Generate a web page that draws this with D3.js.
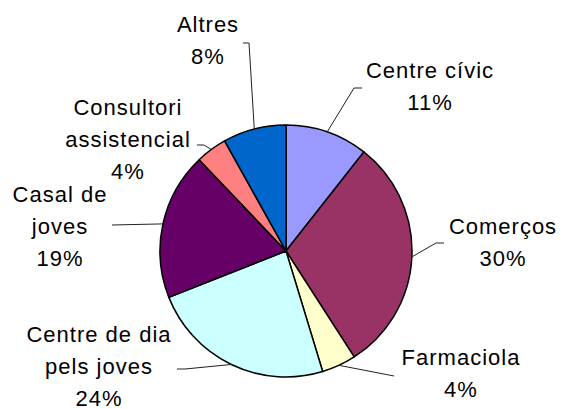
<!DOCTYPE html>
<html>
<head>
<meta charset="utf-8">
<script src="https://cdn.jsdelivr.net/npm/d3@7"></script>
<style>
    body { margin: 0; background: #fff; }
    text { font-family: "Liberation Sans", Arial, sans-serif; font-size: 22px; letter-spacing: 1px; fill: #000; }
</style>
</head>
<body>
<div id="chart"></div>
<script>
// slices in drawing order, clockwise from 12 o'clock
var categories = ["Centre cívic", "Comerços", "Farmaciola", "Centre de dia\npels joves", "Casal de\njoves", "Consultori\nassistencial", "Altres"];
var values = [10.6, 30.3, 4.4, 23.7, 18.9, 4.0, 8.1];
var colors = ["#9999FF", "#993366", "#FFFFCC", "#CCFFFF", "#660066", "#FF8080", "#0066CC"];

// label placement (centre x, first baseline) and leader line start points
var labelPos = [
    { x: 430, y: 78, lead: [[362, 88], [354, 88]] },
    { x: 503, y: 234, lead: [[444, 243], [436, 243]] },
    { x: 461, y: 365, lead: [[394, 376]] },
    { x: 99, y: 342, lead: [[177, 369], [185, 369]] },
    { x: 60, y: 202, lead: [[112, 225]] },
    { x: 128, y: 115, lead: [[197, 145], [204, 145]] },
    { x: 208, y: 32, lead: [[243, 43], [249, 43]] }
];

var width = 562;
var height = 409;
var cx = 286;
var cy = 251;
var radius = 126;
var lineGap = 32;

var total = d3.sum(values);

var svg = d3.select("#chart")
            .append("svg")
            .attr("width", width)
            .attr("height", height);

var pie = d3.pie().sort(null).value(d => d);
var arcs = pie(values);

var arc = d3.arc().innerRadius(0).outerRadius(radius);
var edge = d3.arc().innerRadius(radius).outerRadius(radius);

var g = svg.append("g").attr("transform", `translate(${cx}, ${cy})`);

g.selectAll("path")
 .data(arcs)
 .enter()
 .append("path")
 .attr("d", arc)
 .attr("fill", (d, i) => colors[i])
 .attr("stroke", "#000")
 .attr("stroke-width", 1.5)
 .attr("stroke-linejoin", "round");

// leader lines
arcs.forEach((d, i) => {
    var p = edge.centroid(d);
    var pts = labelPos[i].lead.concat([[cx + p[0], cy + p[1]]]);
    svg.append("polyline")
       .attr("points", pts.map(q => q.join(",")).join(" "))
       .attr("fill", "none")
       .attr("stroke", "#222")
       .attr("stroke-width", 1);
});

// labels
categories.forEach((c, i) => {
    var lines = c.split("\n");
    lines.push(Math.round(values[i] / total * 100) + "%");
    var t = svg.append("text")
               .attr("text-anchor", "middle");
    lines.forEach((l, j) => {
        t.append("tspan")
         .attr("x", labelPos[i].x)
         .attr("y", labelPos[i].y + j * lineGap)
         .text(l);
    });
});
</script>
</body>
</html>
